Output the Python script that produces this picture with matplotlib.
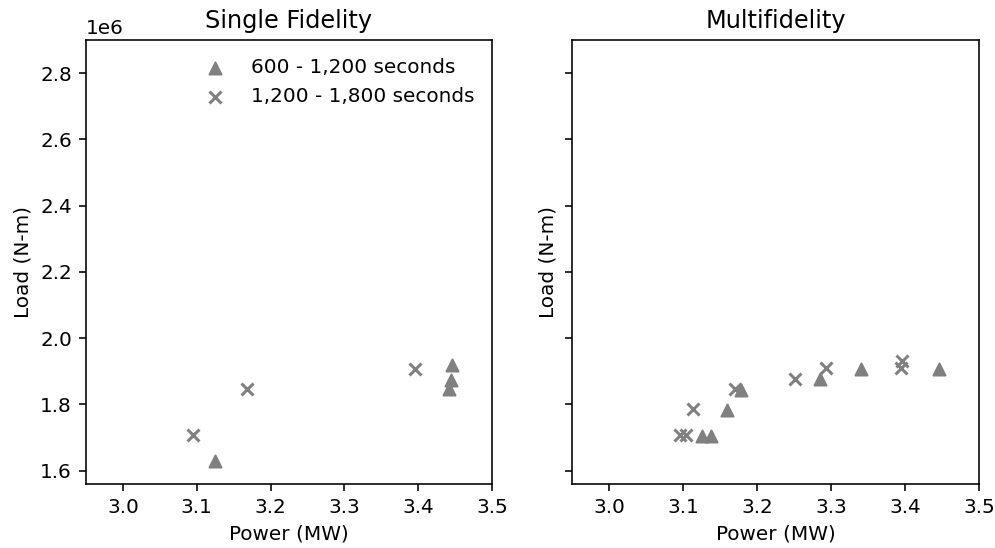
import matplotlib
matplotlib.use("Agg")
import matplotlib.pyplot as plt

# Single fidelity
sf_tri_x = [3.125, 3.446, 3.445, 3.442]
sf_tri_y = [1.630e6, 1.918e6, 1.874e6, 1.846e6]
sf_x_x = [3.095, 3.168, 3.395]
sf_x_y = [1.709e6, 1.848e6, 1.906e6]

# Multifidelity
mf_tri_x = [3.125, 3.138, 3.160, 3.178, 3.285, 3.340, 3.446]
mf_tri_y = [1.706e6, 1.706e6, 1.783e6, 1.845e6, 1.876e6, 1.908e6, 1.906e6]
mf_x_x = [3.096, 3.104, 3.113, 3.170, 3.252, 3.293, 3.396, 3.395]
mf_x_y = [1.709e6, 1.709e6, 1.785e6, 1.848e6, 1.878e6, 1.911e6, 1.931e6, 1.909e6]

titles = ["Single Fidelity", "Multifidelity"]
labels = ["600 - 1,200 seconds", "1,200 - 1,800 seconds"]

dpi = 144
fig = plt.figure(figsize=(995 / dpi, 548 / dpi), dpi=dpi)
ax1 = fig.add_axes([0.0864, 0.1168, 0.4081, 0.8102])
ax2 = fig.add_axes([0.5749, 0.1168, 0.4090, 0.8102], sharey=ax1)

for ax, tx, ty, xx, xy, title in [
    (ax1, sf_tri_x, sf_tri_y, sf_x_x, sf_x_y, titles[0]),
    (ax2, mf_tri_x, mf_tri_y, mf_x_x, mf_x_y, titles[1]),
]:
    ax.scatter(tx, ty, marker="^", c="gray", s=36, label=labels[0])
    ax.scatter(xx, xy, marker="x", c="gray", s=36, label=labels[1])
    ax.set_title(title, fontsize=12)
    ax.set_xlabel("Power (MW)")
    ax.set_ylabel("Load (N-m)")
    ax.set_xlim(2.95, 3.5)
    ax.set_xticks([3.0, 3.1, 3.2, 3.3, 3.4, 3.5])

ax1.set_ylim(1.56e6, 2.9e6)
ax1.set_yticks([1.6e6, 1.8e6, 2.0e6, 2.2e6, 2.4e6, 2.6e6, 2.8e6])
plt.setp(ax2.get_yticklabels(), visible=False)
ax2.yaxis.get_offset_text().set_visible(False)
ax1.legend(loc="upper right", frameon=False)

fig.savefig("out.png", dpi=dpi)
